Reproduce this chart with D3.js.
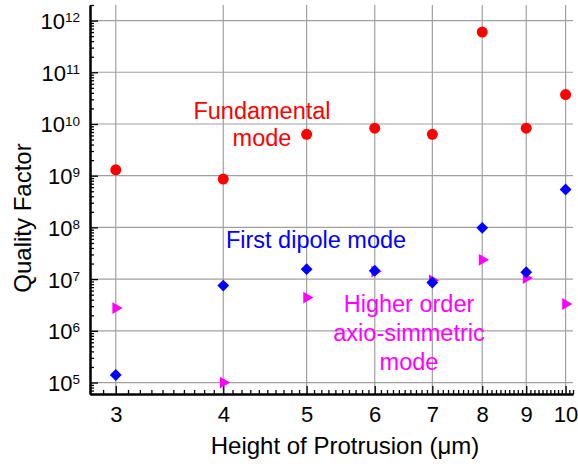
<!DOCTYPE html>
<html>
<head>
<meta charset="utf-8">
<script src="https://cdn.jsdelivr.net/npm/d3@7"></script>
<style>
  html, body { margin: 0; padding: 0; background: #fff; }
  svg { display: block; font-family: "Liberation Sans", Arial, sans-serif; }
</style>
</head>
<body>
<svg id="chart" width="578" height="464"></svg>
<script>
// Protrusion heights (µm) and quality factors for each mode family
const heights = [3, 4, 5, 6, 7, 8, 9, 10];
const qFundamental = [1.3e9, 8.6e8, 6.3e9, 8.3e9, 6.3e9, 6.0e11, 8.3e9, 3.7e10];
const qDipole      = [1.4e5, 7.5e6, 1.56e7, 1.45e7, 8.6e6, 9.8e7, 1.36e7, 5.4e8];
const qHigher      = [2.75e6, 1.0e5, 4.4e6, 1.4e7, 9.5e6, 2.36e7, 1.05e7, 3.3e6];

const xTickValues = [3, 4, 5, 6, 7, 8, 9, 10];
const yExponents = [5, 6, 7, 8, 9, 10, 11, 12];

const xTitle = "Height of Protrusion (\u03bcm)";
const yTitle = "Quality Factor";
const labelFundamental = ["Fundamental", "mode"];
const labelDipole = ["First dipole mode"];
const labelHigher = ["Higher order", "axio-simmetric", "mode"];

// Plot area
const plotLeft = 90, plotRight = 573, plotTop = 5, plotBottom = 394;
const svg = d3.select("#chart");

const x = d3.scaleLog().domain([2.8, 10.2]).range([plotLeft, plotRight]);
const y = d3.scaleLog().domain([6e4, 2e12]).range([plotBottom, plotTop]);

// Gridlines
const grid = svg.append("g").attr("stroke", "#a0a0a0").attr("stroke-width", 1.2);
grid.selectAll("line.v").data(xTickValues).join("line").attr("class", "v")
  .attr("x1", d => x(d)).attr("x2", d => x(d))
  .attr("y1", plotTop).attr("y2", plotBottom);
grid.selectAll("line.h").data(yExponents).join("line").attr("class", "h")
  .attr("x1", plotLeft).attr("x2", plotRight)
  .attr("y1", d => y(Math.pow(10, d))).attr("y2", d => y(Math.pow(10, d)));

// Minor tick values
const xMinor = d3.range(28, 103).map(v => v / 10).filter(v => !xTickValues.includes(v));
const yMinor = [];
for (let e = 4; e <= 12; e++) {
  for (let m = 2; m <= 9; m++) {
    const v = m * Math.pow(10, e);
    if (v >= 6e4 && v <= 2e12) yMinor.push(v);
  }
}

// X axis
const xAxisG = svg.append("g").attr("transform", `translate(0,${plotBottom})`);
xAxisG.call(d3.axisBottom(x).tickValues(xMinor).tickSize(-4).tickSizeOuter(0).tickFormat(""));
const xMajorG = svg.append("g").attr("transform", `translate(0,${plotBottom})`);
xMajorG.call(d3.axisBottom(x).tickValues(xTickValues).tickSize(-8).tickSizeOuter(0)
  .tickPadding(12).tickFormat(d3.format("d")));

// Y axis
const yAxisG = svg.append("g").attr("transform", `translate(${plotLeft},0)`);
yAxisG.call(d3.axisLeft(y).tickValues(yMinor).tickSize(-4).tickSizeOuter(0).tickFormat(""));
const yMajorG = svg.append("g").attr("transform", `translate(${plotLeft},0)`);
yMajorG.call(d3.axisLeft(y).tickValues(yExponents.map(e => Math.pow(10, e)))
  .tickSize(-8).tickSizeOuter(0).tickPadding(10).tickFormat(""));

[xAxisG, xMajorG, yAxisG, yMajorG].forEach(g => {
  g.selectAll("path.domain").attr("stroke", "#000").attr("stroke-width", 2);
  g.selectAll(".tick line").attr("stroke", "#000").attr("stroke-width", 1.3);
});

xMajorG.selectAll(".tick text")
  .attr("font-size", 22).attr("fill", "#000")
  .attr("font-family", "Liberation Sans, Arial, sans-serif");

// Powers of ten with superscript exponent
yMajorG.selectAll(".tick text").each(function(d) {
  const t = d3.select(this)
    .attr("font-size", 22).attr("fill", "#000")
    .attr("font-family", "Liberation Sans, Arial, sans-serif")
    .attr("x", -10).attr("dy", "0.36em").attr("text-anchor", "end");
  t.text(null);
  t.append("tspan").text("10");
  t.append("tspan").attr("font-size", 13.5).attr("dy", "-0.5em")
    .text(Math.round(Math.log10(d)));
});

// Axis titles
svg.append("text")
  .attr("x", 345).attr("y", 454)
  .attr("text-anchor", "middle").attr("font-size", 24).attr("fill", "#000")
  .text(xTitle);
svg.append("text")
  .attr("transform", "translate(31,218) rotate(-90)")
  .attr("text-anchor", "middle").attr("font-size", 24).attr("fill", "#000")
  .text(yTitle);

// Markers
const pts = (vals) => heights.map((h, i) => ({ h, q: vals[i] }));

svg.append("g").selectAll("circle").data(pts(qFundamental)).join("circle")
  .attr("cx", d => x(d.h)).attr("cy", d => y(d.q)).attr("r", 5.5)
  .attr("fill", "#ff0000");

const tri = d3.symbol().type(d3.symbolTriangle).size(60);
svg.append("g").selectAll("path").data(pts(qHigher)).join("path")
  .attr("d", tri)
  .attr("transform", d => `translate(${x(d.h)},${y(d.q)}) rotate(90)`)
  .attr("fill", "#ff00ff");

const dia = d3.symbol().type(d3.symbolSquare).size(70);
svg.append("g").selectAll("path").data(pts(qDipole)).join("path")
  .attr("d", dia)
  .attr("transform", d => `translate(${x(d.h)},${y(d.q)}) rotate(45)`)
  .attr("fill", "#0000ff");

// Mode annotations
function annotate(lines, cx, firstBaseline, lineStep, color) {
  const t = svg.append("text").attr("text-anchor", "middle")
    .attr("font-size", 23.5).attr("fill", color);
  lines.forEach((s, i) => {
    t.append("tspan").attr("x", cx).attr("y", firstBaseline + i * lineStep).text(s);
  });
}
annotate(labelFundamental, 262, 119, 27, "#ff0000");
annotate(labelDipole, 316, 248, 27, "#0000ff");
annotate(labelHigher, 409, 312, 28.8, "#ff00ff");
</script>
</body>
</html>
